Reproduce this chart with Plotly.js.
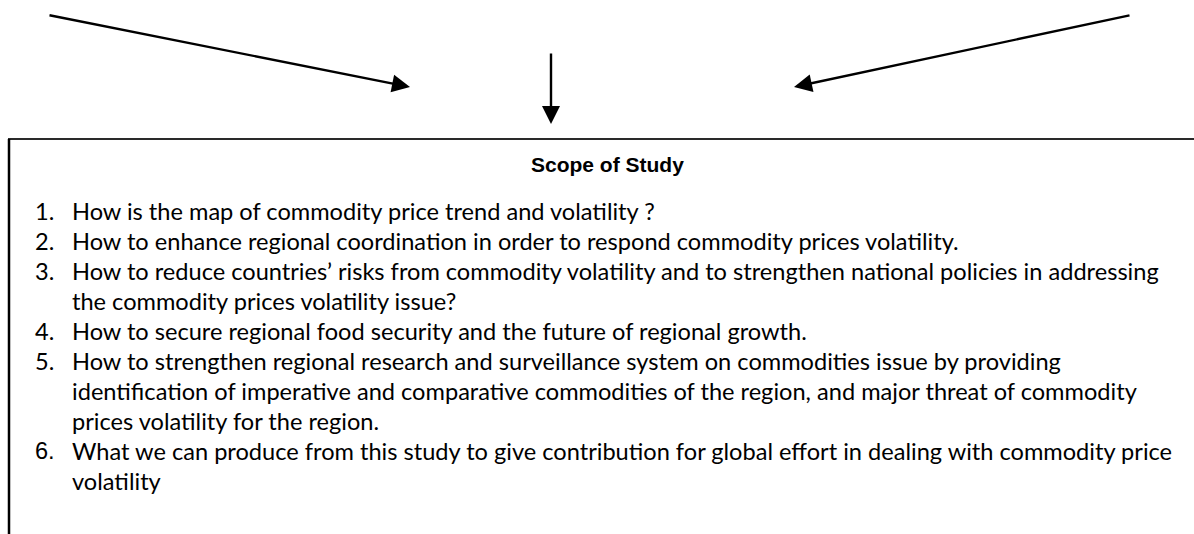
<!DOCTYPE html>
<html>
<head>
<meta charset="utf-8">
<script src="https://cdn.plot.ly/plotly-3.0.1.min.js"></script>
<style>
  html, body { margin: 0; padding: 0; background: #ffffff; }
  #chart { width: 1194px; height: 534px; }
</style>
</head>
<body>
<div id="chart"></div>
<script>
// ---- content ----
const boxTitle = "Scope of Study";
const itemNumbers = ["1.", "2.", "3.", "4.", "5.", "6."];
const itemLines = [
  ["How is the map of commodity price trend and volatility ?"],
  ["How to enhance regional coordination in order to respond commodity prices volatility."],
  ["How to reduce countries\u2019 risks from commodity volatility and to strengthen national policies in addressing",
   "the commodity prices volatility issue?"],
  ["How to secure regional food security and the future of regional growth."],
  ["How to strengthen regional research and surveillance system on commodities issue by providing",
   "identification of imperative and comparative commodities of the region, and major threat of commodity",
   "prices volatility for the region."],
  ["What we can produce from this study to give contribution for global effort in dealing with commodity price",
   "volatility"]
];

// ---- layout geometry (page pixels) ----
const W = 1194, H = 534;
const arrowStarts = [[48, 15], [551, 52], [1131, 15]];
const arrowEnds   = [[410, 87], [551, 124], [794, 87]];
const boxTop = 139, boxLeft = 9;
const numX = 33, textX = 70, firstLineY = 211, lineStep = 30.0;
const bodyFont = "Lato";
const bodySize = 23.6;

const annotations = [];
// arrows
for (let i = 0; i < arrowStarts.length; i++) {
  annotations.push({
    x: arrowEnds[i][0], y: arrowEnds[i][1], xref: 'x', yref: 'y',
    ax: arrowStarts[i][0], ay: arrowStarts[i][1], axref: 'x', ayref: 'y',
    text: '', showarrow: true, arrowhead: 2, arrowsize: 1.5, arrowwidth: 2.4,
    arrowcolor: '#000000', standoff: 0, startstandoff: 0
  });
}
// title
annotations.push({
  x: 607, y: 164, xref: 'x', yref: 'y', text: '<b>' + boxTitle + '</b>',
  showarrow: false, xanchor: 'center', yanchor: 'middle',
  font: { family: 'Liberation Sans', size: 21, color: '#000000' }
});
// items
let li = 0;
for (let i = 0; i < itemNumbers.length; i++) {
  const y0 = firstLineY + li * lineStep;
  annotations.push({
    x: numX, y: y0, xref: 'x', yref: 'y', text: itemNumbers[i], showarrow: false,
    xanchor: 'left', yanchor: 'middle',
    font: { family: i === 5 ? 'Liberation Sans Narrow, Liberation Sans' : bodyFont, size: bodySize, color: '#000000' }
  });
  for (let j = 0; j < itemLines[i].length; j++) {
    annotations.push({
      x: textX, y: firstLineY + li * lineStep, xref: 'x', yref: 'y', text: itemLines[i][j],
      showarrow: false, xanchor: 'left', yanchor: 'middle',
      font: { family: bodyFont, size: bodySize, color: '#000000' }
    });
    li++;
  }
}

const shapes = [
  { type: 'line', xref: 'x', yref: 'y', x0: boxLeft - 1, x1: W + 5, y0: boxTop, y1: boxTop,
    line: { color: '#2a2a2a', width: 2 } },
  { type: 'line', xref: 'x', yref: 'y', x0: boxLeft, x1: boxLeft, y0: boxTop, y1: H + 5,
    line: { color: '#000000', width: 2.5 } }
];

Plotly.newPlot('chart', [], {
  width: W, height: H,
  margin: { l: 0, r: 0, t: 0, b: 0, pad: 0 },
  paper_bgcolor: '#ffffff', plot_bgcolor: '#ffffff',
  xaxis: { range: [0, W], visible: false, fixedrange: true },
  yaxis: { range: [H, 0], visible: false, fixedrange: true },
  showlegend: false,
  annotations: annotations,
  shapes: shapes
}, { displayModeBar: false, staticPlot: true });
</script>
</body>
</html>
